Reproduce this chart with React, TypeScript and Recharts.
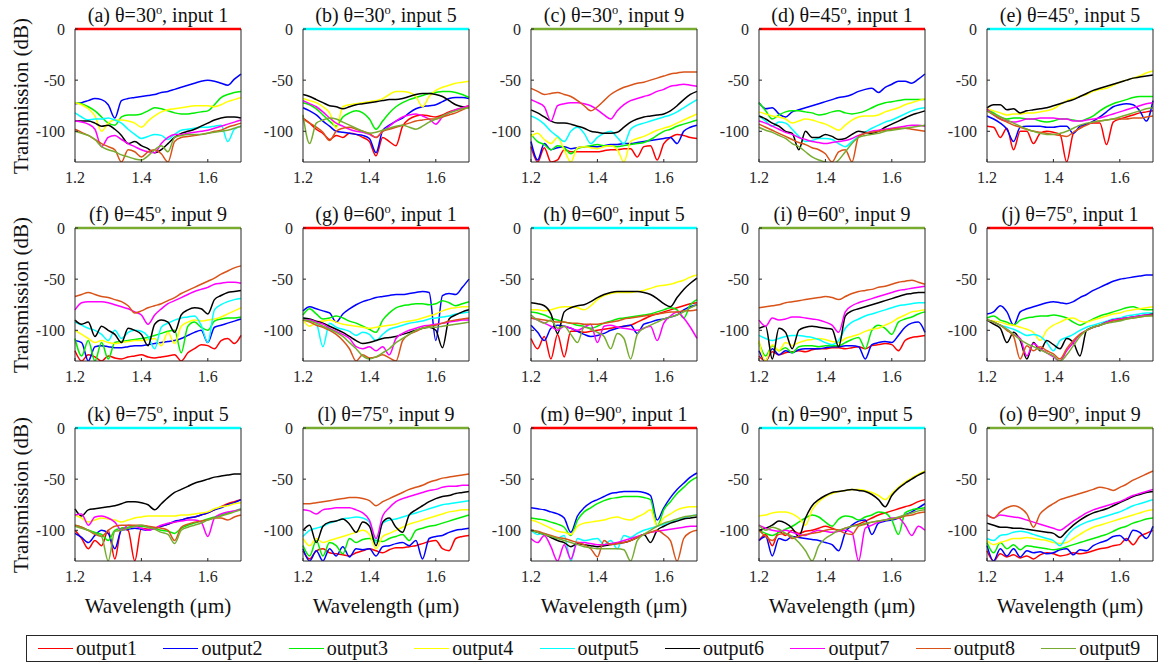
import { LineChart, Line, XAxis, YAxis } from 'recharts';

// wavelength grid (um)
const WL = [1.2, 1.22, 1.24, 1.26, 1.28, 1.3, 1.32, 1.34, 1.36, 1.38, 1.4, 1.42, 1.44, 1.46, 1.48, 1.5, 1.52, 1.54, 1.56, 1.58, 1.6, 1.62, 1.64, 1.66, 1.68, 1.7];
const ZERO = [0, 0, 0, 0, 0, 0, 0, 0, 0, 0, 0, 0, 0, 0, 0, 0, 0, 0, 0, 0, 0, 0, 0, 0, 0, 0];

const NAMES = ['output1', 'output2', 'output3', 'output4', 'output5', 'output6', 'output7', 'output8', 'output9'];
const COLORS = ['#ff0000', '#0000ff', '#00ee00', '#ffff00', '#00ffff', '#000000', '#ff00ff', '#d95319', '#77ac30'];

const X_TICKS = [1.2, 1.4, 1.6];
const Y_TICKS = [-100, -50, 0];

// each panel: output1 ... output9 (dB)
const P_A = [
  ZERO,
  [-73, -72, -70, -68, -69, -74, -87, -70, -68, -67, -66, -65, -64, -62, -61, -59, -57, -55, -53, -51, -50, -51, -53, -55, -49, -44],
  [-72, -73, -76, -80, -86, -92, -94, -86, -84, -84, -83, -80, -77, -78, -80, -82, -83, -83, -82, -81, -80, -74, -67, -64, -62, -61],
  [-72, -74, -78, -85, -100, -92, -89, -89, -90, -92, -96, -90, -85, -81, -79, -78, -77, -76, -75, -75, -75, -76, -74, -71, -69, -67],
  [-82, -86, -89, -88, -88, -87, -89, -92, -98, -103, -107, -105, -103, -104, -108, -103, -99, -98, -97, -96, -96, -95, -94, -110, -98, -95],
  [-90, -90, -90, -92, -95, -94, -98, -104, -112, -110, -114, -117, -121, -118, -112, -106, -102, -100, -98, -95, -92, -89, -87, -86, -86, -87],
  [-90, -91, -93, -98, -115, -106, -104, -108, -112, -115, -118, -120, -121, -112, -106, -103, -103, -102, -101, -100, -99, -97, -95, -93, -91, -89],
  [-98, -101, -104, -108, -112, -115, -118, -130, -118, -120, -125, -120, -118, -122, -130, -110, -106, -105, -104, -103, -102, -100, -99, -96, -94, -92],
  [-100, -102, -104, -108, -115, -118, -120, -123, -125, -127, -128, -124, -118, -114, -120, -106, -104, -103, -103, -103, -102, -101, -100, -99, -97, -95],
];

const P_B = [
  [-87, -92, -98, -102, -108, -104, -106, -102, -103, -106, -110, -124, -106, -110, -114, -95, -88, -85, -84, -85, -86, -84, -81, -79, -77, -75],
  [-77, -80, -84, -90, -95, -100, -101, -102, -103, -104, -107, -121, -99, -94, -90, -87, -82, -78, -76, -75, -74, -71, -68, -67, -67, -68],
  [-72, -74, -78, -84, -90, -95, -86, -82, -80, -82, -88, -98, -90, -82, -76, -72, -69, -67, -65, -63, -62, -61, -61, -62, -64, -67],
  [-68, -70, -72, -76, -82, -97, -76, -74, -73, -72, -71, -70, -68, -64, -61, -61, -62, -66, -76, -66, -60, -57, -55, -53, -52, -51],
  ZERO,
  [-64, -66, -69, -72, -75, -76, -78, -76, -74, -73, -72, -71, -70, -69, -69, -68, -66, -64, -63, -63, -64, -66, -70, -74, -76, -77],
  [-70, -73, -76, -81, -87, -92, -95, -98, -100, -101, -103, -106, -100, -95, -90, -86, -84, -83, -85, -88, -93, -86, -82, -79, -77, -75],
  [-88, -92, -96, -101, -109, -100, -97, -96, -98, -100, -102, -106, -100, -98, -96, -94, -92, -90, -89, -88, -88, -86, -84, -82, -79, -76],
  [-84, -112, -92, -89, -87, -88, -91, -94, -97, -100, -102, -101, -99, -97, -95, -94, -96, -98, -95, -91, -88, -85, -82, -80, -78, -77],
];

const P_C = [
  [-115, -130, -116, -130, -128, -118, -120, -120, -120, -120, -120, -119, -118, -118, -117, -117, -125, -115, -114, -128, -112, -106, -103, -104, -106, -107],
  [-110, -128, -112, -118, -116, -115, -117, -116, -115, -115, -115, -114, -113, -113, -112, -112, -111, -110, -109, -108, -107, -106, -112, -100, -96, -94],
  [-103, -110, -113, -118, -114, -116, -122, -117, -115, -114, -113, -114, -114, -115, -114, -113, -112, -111, -108, -104, -100, -98, -95, -93, -91, -89],
  [-105, -102, -108, -112, -106, -118, -130, -116, -115, -116, -117, -115, -114, -118, -130, -110, -107, -105, -102, -99, -97, -95, -92, -89, -86, -83],
  [-85, -88, -93, -100, -105, -110, -100, -96, -102, -112, -106, -102, -100, -106, -112, -98, -94, -92, -90, -88, -86, -84, -81, -77, -73, -69],
  [-79, -82, -86, -90, -92, -92, -93, -95, -97, -100, -101, -102, -102, -101, -96, -91, -88, -86, -85, -84, -83, -80, -75, -69, -64, -61],
  [-69, -72, -76, -90, -75, -73, -72, -72, -73, -75, -79, -84, -88, -80, -74, -70, -68, -66, -64, -61, -59, -56, -55, -54, -55, -56],
  [-58, -61, -64, -63, -62, -64, -66, -70, -75, -80, -76, -70, -64, -60, -57, -55, -53, -52, -50, -48, -46, -44, -43, -42, -42, -42],
  ZERO,
];

const P_D = [
  ZERO,
  [-72, -78, -77, -83, -86, -81, -79, -77, -75, -73, -71, -69, -67, -66, -64, -61, -59, -58, -62, -57, -54, -51, -51, -53, -49, -44],
  [-72, -80, -88, -84, -81, -80, -80, -81, -82, -84, -83, -81, -80, -82, -83, -82, -80, -77, -74, -72, -71, -70, -69, -69, -69, -69],
  [-81, -83, -85, -86, -88, -92, -90, -88, -89, -91, -93, -96, -99, -94, -89, -86, -85, -85, -84, -81, -79, -77, -74, -72, -70, -68],
  [-85, -90, -95, -91, -92, -98, -105, -110, -109, -107, -107, -108, -112, -115, -110, -105, -101, -97, -94, -91, -89, -86, -83, -80, -78, -77],
  [-85, -88, -92, -95, -100, -102, -118, -100, -106, -106, -103, -105, -108, -107, -103, -100, -101, -102, -100, -96, -93, -90, -87, -84, -82, -80],
  [-90, -92, -95, -98, -101, -103, -106, -108, -110, -111, -112, -111, -110, -109, -107, -104, -102, -100, -99, -98, -97, -96, -95, -94, -94, -95],
  [-93, -96, -99, -102, -105, -108, -111, -113, -116, -118, -122, -130, -120, -118, -130, -105, -102, -101, -100, -99, -98, -97, -97, -98, -99, -100],
  [-96, -99, -101, -104, -107, -112, -115, -120, -125, -128, -130, -132, -128, -120, -112, -106, -104, -103, -102, -100, -99, -98, -97, -96, -95, -94],
];

const P_E = [
  [-95, -96, -106, -97, -118, -100, -100, -112, -102, -100, -101, -103, -130, -102, -97, -93, -92, -92, -113, -91, -88, -86, -84, -82, -81, -80],
  [-85, -88, -92, -98, -110, -96, -95, -95, -95, -96, -96, -95, -95, -102, -95, -93, -90, -86, -81, -76, -74, -73, -74, -80, -90, -70],
  [-78, -82, -86, -88, -87, -87, -88, -88, -90, -91, -90, -88, -88, -89, -90, -88, -85, -80, -76, -73, -71, -69, -67, -66, -66, -66],
  [-78, -80, -82, -84, -83, -83, -82, -82, -81, -80, -78, -74, -70, -68, -66, -64, -61, -59, -58, -55, -52, -50, -48, -46, -43, -41],
  ZERO,
  [-77, -74, -74, -79, -78, -82, -80, -79, -78, -77, -75, -73, -71, -69, -66, -63, -60, -58, -56, -54, -52, -50, -48, -47, -46, -45],
  [-78, -84, -88, -90, -91, -90, -88, -88, -87, -87, -87, -88, -88, -90, -90, -89, -88, -87, -85, -83, -81, -79, -77, -75, -73, -72],
  [-80, -84, -88, -91, -94, -96, -98, -100, -101, -102, -103, -104, -105, -101, -97, -94, -91, -90, -89, -88, -88, -88, -87, -87, -86, -85],
  [-80, -83, -86, -89, -92, -95, -98, -100, -102, -103, -103, -102, -100, -97, -94, -92, -91, -90, -89, -88, -86, -84, -82, -80, -78, -77],
];

const P_F = [
  [-120, -130, -124, -126, -130, -125, -127, -128, -126, -125, -124, -126, -127, -126, -125, -124, -130, -122, -118, -114, -115, -118, -110, -108, -113, -105],
  [-110, -112, -130, -116, -115, -116, -117, -117, -116, -115, -115, -114, -113, -112, -111, -110, -108, -105, -102, -100, -112, -97, -95, -93, -91, -89],
  [-108, -125, -110, -130, -112, -128, -112, -111, -110, -109, -108, -107, -105, -103, -101, -100, -122, -96, -92, -97, -100, -91, -89, -88, -88, -87],
  [-100, -104, -108, -112, -110, -112, -113, -112, -111, -110, -110, -109, -108, -115, -102, -113, -96, -92, -90, -91, -90, -89, -87, -84, -81, -78],
  [-92, -95, -98, -100, -104, -110, -100, -108, -102, -100, -101, -106, -118, -97, -93, -90, -88, -87, -86, -95, -112, -80, -75, -72, -70, -69],
  [-90, -94, -92, -106, -96, -100, -104, -112, -98, -100, -104, -115, -94, -90, -92, -102, -85, -80, -78, -79, -84, -70, -66, -63, -62, -61],
  [-80, -73, -72, -72, -72, -73, -75, -77, -79, -82, -85, -94, -85, -79, -74, -71, -68, -65, -62, -60, -58, -55, -54, -53, -53, -54],
  [-67, -65, -63, -65, -67, -68, -70, -72, -76, -83, -81, -78, -76, -74, -71, -68, -64, -61, -58, -55, -52, -49, -45, -42, -39, -37],
  ZERO,
];

const P_G = [
  ZERO,
  [-81, -77, -79, -81, -83, -92, -84, -79, -75, -72, -70, -68, -67, -66, -65, -65, -64, -63, -62, -63, -110, -66, -64, -65, -58, -50],
  [-85, -79, -84, -89, -88, -86, -88, -91, -93, -96, -99, -102, -90, -83, -78, -76, -75, -74, -74, -75, -74, -71, -73, -76, -74, -72],
  [-90, -96, -92, -91, -90, -92, -94, -95, -96, -97, -98, -97, -96, -95, -94, -92, -91, -90, -88, -86, -84, -81, -79, -78, -77, -77],
  [-88, -90, -93, -116, -93, -97, -99, -101, -105, -102, -104, -110, -104, -99, -97, -95, -93, -92, -91, -89, -88, -87, -86, -84, -83, -82],
  [-88, -89, -91, -93, -96, -99, -102, -106, -110, -113, -112, -110, -108, -107, -106, -104, -102, -100, -98, -97, -100, -117, -89, -85, -82, -80],
  [-90, -90, -92, -94, -98, -101, -104, -108, -116, -118, -116, -120, -116, -124, -108, -103, -100, -98, -96, -95, -94, -93, -92, -91, -90, -90],
  [-90, -92, -95, -97, -100, -104, -110, -118, -130, -124, -127, -126, -124, -127, -130, -110, -104, -101, -98, -96, -95, -93, -91, -90, -89, -88],
  [-90, -91, -93, -96, -99, -102, -106, -112, -118, -125, -128, -126, -122, -118, -112, -108, -104, -100, -98, -97, -97, -96, -95, -94, -93, -92],
];

const P_H = [
  [-108, -118, -106, -128, -104, -126, -101, -101, -102, -101, -100, -99, -98, -97, -96, -95, -92, -89, -86, -84, -82, -80, -78, -76, -74, -73],
  [-95, -102, -110, -98, -95, -96, -98, -101, -104, -106, -105, -103, -100, -98, -96, -95, -103, -94, -92, -90, -89, -87, -85, -80, -77, -75],
  [-82, -83, -85, -88, -90, -92, -93, -95, -96, -98, -96, -93, -91, -89, -88, -87, -86, -85, -84, -82, -80, -78, -80, -88, -75, -70],
  [-80, -80, -81, -80, -78, -77, -77, -78, -80, -76, -70, -66, -64, -63, -63, -63, -62, -61, -59, -57, -56, -55, -53, -51, -48, -46],
  ZERO,
  [-73, -74, -76, -84, -103, -82, -78, -76, -75, -72, -68, -65, -63, -62, -62, -62, -62, -63, -65, -69, -74, -77, -68, -60, -54, -49],
  [-88, -90, -93, -96, -100, -96, -98, -100, -97, -94, -112, -96, -95, -97, -98, -99, -100, -98, -96, -110, -93, -86, -82, -88, -97, -108],
  [-88, -89, -90, -91, -92, -92, -93, -93, -94, -94, -94, -93, -92, -91, -89, -88, -87, -86, -85, -84, -83, -82, -82, -81, -81, -80],
  [-85, -90, -93, -90, -98, -96, -104, -112, -97, -99, -102, -106, -118, -103, -108, -128, -104, -98, -95, -92, -89, -87, -85, -82, -78, -75],
];

const P_I = [
  [-125, -130, -121, -124, -122, -121, -120, -121, -119, -118, -118, -117, -117, -118, -117, -116, -118, -115, -114, -113, -114, -120, -110, -107, -106, -105],
  [-120, -130, -118, -124, -120, -122, -119, -118, -118, -118, -117, -116, -116, -115, -115, -116, -128, -114, -112, -111, -112, -105, -97, -93, -92, -102],
  [-112, -125, -115, -120, -117, -122, -116, -115, -115, -116, -115, -115, -115, -112, -109, -107, -118, -100, -95, -98, -104, -92, -89, -87, -84, -82],
  [-110, -130, -114, -120, -112, -115, -112, -110, -109, -108, -109, -111, -112, -108, -106, -104, -101, -99, -98, -95, -92, -88, -85, -82, -81, -80],
  [-105, -108, -110, -108, -106, -105, -105, -106, -107, -109, -112, -114, -110, -98, -92, -89, -86, -84, -82, -80, -78, -76, -75, -74, -73, -73],
  [-98, -96, -128, -98, -102, -118, -100, -97, -96, -97, -98, -99, -116, -86, -81, -79, -77, -75, -73, -71, -69, -67, -65, -64, -63, -63],
  [-90, -96, -88, -90, -89, -87, -87, -88, -89, -90, -92, -95, -102, -82, -76, -73, -71, -69, -67, -65, -63, -61, -60, -59, -58, -57],
  [-78, -77, -76, -75, -73, -72, -71, -70, -69, -68, -67, -68, -70, -67, -64, -62, -61, -60, -58, -57, -55, -53, -52, -51, -53, -55],
  ZERO,
];

const P_J = [
  ZERO,
  [-84, -82, -76, -82, -95, -82, -79, -77, -75, -73, -72, -73, -74, -72, -68, -65, -61, -58, -55, -52, -50, -49, -48, -47, -46, -46],
  [-88, -86, -90, -92, -95, -90, -88, -87, -86, -86, -85, -86, -88, -92, -95, -92, -89, -86, -84, -82, -80, -78, -77, -79, -80, -80],
  [-90, -91, -92, -94, -95, -97, -99, -102, -110, -100, -95, -92, -89, -88, -91, -92, -90, -88, -86, -84, -83, -81, -80, -79, -78, -77],
  [-90, -92, -95, -97, -99, -102, -105, -104, -106, -112, -120, -110, -107, -104, -100, -97, -95, -93, -91, -89, -88, -86, -85, -84, -83, -83],
  [-90, -94, -98, -112, -102, -110, -128, -112, -120, -110, -114, -118, -108, -112, -125, -100, -97, -95, -92, -90, -89, -88, -87, -86, -85, -84],
  [-90, -92, -95, -99, -104, -108, -125, -113, -118, -122, -126, -130, -120, -112, -104, -100, -97, -95, -92, -90, -89, -88, -87, -86, -85, -85],
  [-90, -92, -95, -100, -106, -128, -115, -120, -116, -120, -123, -128, -118, -110, -104, -100, -97, -95, -93, -91, -90, -89, -88, -87, -86, -85],
  [-90, -92, -95, -99, -104, -109, -113, -116, -119, -122, -125, -130, -124, -115, -106, -100, -97, -95, -93, -92, -91, -89, -88, -87, -86, -86],
];

const P_K = [
  [-100, -108, -118, -110, -115, -100, -128, -98, -100, -130, -98, -99, -98, -96, -94, -92, -90, -88, -87, -85, -83, -80, -77, -74, -72, -70],
  [-103, -107, -112, -105, -100, -103, -118, -100, -99, -98, -99, -100, -98, -96, -94, -91, -90, -88, -87, -85, -83, -80, -78, -75, -73, -70],
  [-95, -97, -100, -102, -104, -110, -100, -98, -97, -96, -96, -97, -98, -100, -101, -103, -98, -95, -93, -91, -89, -87, -85, -83, -81, -79],
  [-85, -88, -92, -90, -88, -89, -90, -92, -90, -88, -87, -86, -86, -86, -86, -86, -85, -85, -84, -83, -82, -79, -77, -76, -74, -73],
  ZERO,
  [-79, -86, -80, -79, -78, -77, -76, -74, -72, -72, -73, -75, -80, -74, -68, -63, -60, -57, -54, -52, -50, -48, -47, -46, -45, -45],
  [-85, -84, -95, -87, -86, -88, -92, -100, -95, -96, -98, -100, -98, -95, -93, -92, -91, -90, -90, -92, -106, -88, -84, -82, -81, -80],
  [-95, -97, -100, -104, -106, -100, -96, -95, -95, -95, -95, -96, -97, -98, -100, -110, -97, -94, -92, -91, -90, -88, -88, -90, -87, -85],
  [-96, -98, -100, -103, -106, -130, -101, -100, -98, -96, -95, -97, -99, -102, -104, -113, -100, -97, -95, -93, -90, -88, -86, -84, -82, -80],
];

const P_L = [
  [-120, -128, -120, -118, -122, -123, -124, -125, -122, -120, -118, -120, -122, -119, -117, -117, -116, -115, -113, -111, -110, -118, -120, -108, -106, -105],
  [-118, -130, -120, -130, -118, -125, -116, -126, -118, -119, -118, -125, -116, -115, -113, -112, -115, -110, -128, -108, -106, -105, -102, -100, -99, -98],
  [-115, -125, -110, -125, -112, -115, -123, -108, -112, -109, -108, -110, -111, -108, -106, -104, -110, -100, -98, -96, -95, -93, -91, -89, -87, -85],
  [-108, -115, -108, -112, -110, -108, -106, -104, -102, -100, -104, -118, -106, -103, -100, -97, -94, -92, -90, -88, -86, -84, -82, -81, -80, -80],
  [-106, -100, -98, -96, -93, -91, -89, -88, -87, -88, -92, -112, -93, -90, -89, -87, -85, -83, -81, -79, -77, -75, -74, -73, -72, -71],
  [-100, -95, -112, -96, -92, -91, -89, -94, -102, -92, -96, -115, -92, -88, -97, -102, -85, -80, -76, -72, -69, -67, -66, -64, -63, -62],
  [-80, -81, -84, -80, -79, -78, -78, -78, -80, -83, -90, -108, -86, -78, -72, -69, -67, -65, -63, -61, -60, -58, -57, -57, -56, -56],
  [-74, -74, -73, -72, -71, -70, -69, -68, -68, -69, -71, -76, -72, -69, -66, -63, -60, -58, -56, -53, -51, -49, -48, -47, -46, -45],
  ZERO,
];

const P_M = [
  ZERO,
  [-78, -79, -80, -82, -84, -88, -102, -86, -78, -73, -70, -67, -64, -63, -62, -62, -62, -63, -66, -90, -78, -68, -60, -54, -48, -44],
  [-88, -89, -90, -92, -94, -97, -105, -90, -82, -78, -74, -71, -69, -68, -67, -67, -67, -68, -70, -96, -80, -72, -64, -58, -52, -48],
  [-90, -92, -95, -98, -101, -102, -104, -96, -93, -92, -91, -90, -88, -87, -89, -90, -87, -84, -80, -96, -88, -84, -80, -78, -77, -77],
  [-100, -104, -103, -106, -108, -105, -130, -108, -110, -109, -108, -114, -110, -118, -105, -107, -103, -100, -98, -96, -94, -92, -90, -88, -86, -85],
  [-100, -102, -104, -107, -110, -112, -116, -113, -114, -115, -116, -115, -114, -113, -112, -110, -107, -104, -112, -100, -96, -93, -91, -89, -88, -87],
  [-108, -112, -105, -116, -130, -114, -128, -112, -112, -113, -114, -114, -113, -112, -110, -108, -106, -104, -102, -101, -100, -99, -98, -97, -96, -96],
  [-100, -101, -103, -105, -107, -108, -110, -112, -114, -118, -126, -110, -114, -113, -112, -110, -107, -104, -102, -100, -104, -110, -130, -108, -102, -100],
  [-100, -102, -104, -106, -108, -110, -112, -114, -116, -117, -118, -118, -118, -118, -119, -130, -110, -104, -100, -96, -93, -91, -89, -87, -86, -85],
];

const P_N = [
  [-110, -104, -115, -101, -105, -100, -103, -101, -100, -98, -96, -98, -100, -98, -96, -94, -91, -88, -85, -83, -81, -79, -77, -75, -72, -70],
  [-110, -106, -125, -108, -110, -106, -107, -108, -109, -110, -112, -114, -120, -102, -95, -91, -90, -104, -93, -91, -90, -88, -85, -82, -78, -74],
  [-100, -103, -105, -102, -99, -96, -92, -88, -85, -87, -92, -96, -89, -86, -87, -90, -87, -85, -82, -83, -90, -104, -83, -80, -79, -78],
  [-86, -85, -83, -82, -82, -84, -88, -95, -80, -72, -67, -64, -62, -61, -60, -60, -61, -63, -66, -70, -64, -58, -53, -49, -45, -42],
  ZERO,
  [-100, -98, -95, -91, -93, -98, -106, -88, -76, -70, -66, -63, -62, -61, -60, -61, -62, -65, -70, -77, -66, -59, -54, -50, -46, -43],
  [-95, -98, -100, -101, -100, -102, -104, -105, -102, -100, -101, -102, -101, -100, -102, -130, -98, -95, -92, -90, -88, -88, -95, -105, -96, -100],
  [-100, -106, -110, -104, -103, -108, -106, -104, -103, -102, -100, -99, -100, -103, -104, -96, -94, -92, -91, -90, -89, -88, -86, -85, -83, -82],
  [-95, -100, -97, -99, -103, -106, -112, -120, -130, -115, -108, -104, -100, -98, -96, -95, -93, -92, -91, -90, -89, -87, -85, -83, -81, -80],
];

const P_O = [
  [-120, -130, -123, -126, -124, -127, -125, -128, -124, -122, -123, -125, -124, -122, -123, -122, -120, -118, -117, -115, -114, -108, -114, -106, -103, -100],
  [-115, -130, -118, -125, -118, -126, -120, -122, -121, -123, -122, -119, -118, -124, -119, -120, -115, -112, -110, -106, -105, -110, -100, -102, -108, -96],
  [-112, -122, -112, -118, -114, -119, -115, -116, -117, -118, -119, -118, -116, -114, -112, -110, -108, -106, -104, -101, -98, -96, -93, -91, -89, -88],
  [-110, -114, -112, -110, -108, -108, -107, -108, -109, -110, -112, -113, -112, -108, -104, -100, -97, -95, -93, -91, -89, -87, -85, -83, -81, -80],
  [-108, -110, -105, -104, -102, -101, -102, -104, -106, -108, -110, -115, -106, -99, -95, -92, -90, -88, -86, -84, -82, -79, -76, -74, -72, -70],
  [-93, -95, -97, -97, -98, -98, -99, -100, -101, -102, -103, -107, -101, -95, -90, -86, -83, -81, -79, -76, -73, -70, -67, -65, -63, -62],
  [-85, -88, -85, -86, -87, -88, -90, -92, -94, -96, -98, -100, -96, -91, -87, -83, -80, -78, -76, -74, -72, -69, -66, -64, -62, -60],
  [-85, -88, -82, -78, -76, -78, -84, -97, -84, -78, -74, -70, -68, -66, -64, -62, -60, -58, -59, -61, -58, -55, -51, -48, -45, -42],
  ZERO,
];

const PANELS = [
  { tag: 'a', theta: 30, input: 1, series: P_A },
  { tag: 'b', theta: 30, input: 5, series: P_B },
  { tag: 'c', theta: 30, input: 9, series: P_C },
  { tag: 'd', theta: 45, input: 1, series: P_D },
  { tag: 'e', theta: 45, input: 5, series: P_E },
  { tag: 'f', theta: 45, input: 9, series: P_F },
  { tag: 'g', theta: 60, input: 1, series: P_G },
  { tag: 'h', theta: 60, input: 5, series: P_H },
  { tag: 'i', theta: 60, input: 9, series: P_I },
  { tag: 'j', theta: 75, input: 1, series: P_J },
  { tag: 'k', theta: 75, input: 5, series: P_K },
  { tag: 'l', theta: 75, input: 9, series: P_L },
  { tag: 'm', theta: 90, input: 1, series: P_M },
  { tag: 'n', theta: 90, input: 5, series: P_N },
  { tag: 'o', theta: 90, input: 9, series: P_O },
];

const PLOT_W = 166;
const PLOT_H = 133;
const COL_X = [75, 303, 531, 759, 987];
const ROW_Y = [29, 228, 428];
const AXIS = '#262626';
const FONT = "'Liberation Serif', 'DejaVu Serif', serif";

function Panel({ panel, row, col }: { panel: any; row: number; col: number }) {
  const left = COL_X[col];
  const top = ROW_Y[row];
  const data = WL.map((x, i) => {
    const point: Record<string, number> = { x };
    panel.series.forEach((s: number[], k: number) => {
      point['o' + (k + 1)] = s[i];
    });
    return point;
  });
  const tickStyle = { fill: AXIS, fontSize: 16, fontFamily: FONT };

  return (
    <>
      <div
        style={{
          position: 'absolute',
          left: left - 40,
          width: PLOT_W + 80,
          top: top - 25,
          textAlign: 'center',
          fontFamily: FONT,
          fontSize: 20,
          lineHeight: '22px',
          whiteSpace: 'nowrap',
          color: '#111',
        }}
      >
        ({panel.tag}) θ={panel.theta}
        <sup style={{ fontSize: '0.62em', lineHeight: 0 }}>o</sup>, input {panel.input}
      </div>
      <div style={{ position: 'absolute', left: left - 60, top: top - 10 }}>
        <LineChart width={232} height={173} data={data} margin={{ top: 9, right: 5, bottom: 0, left: 0 }}>
          <XAxis
            xAxisId="b"
            dataKey="x"
            type="number"
            domain={[1.2, 1.7]}
            ticks={X_TICKS}
            interval={0}
            tickFormatter={(v: number) => v.toFixed(1)}
            height={30}
            tickSize={-3}
            tickMargin={13}
            stroke={AXIS}
            tick={tickStyle}
          />
          <XAxis
            xAxisId="t"
            orientation="top"
            dataKey="x"
            type="number"
            domain={[1.2, 1.7]}
            ticks={X_TICKS}
            interval={0}
            height={1}
            tickSize={-3}
            tick={false}
            axisLine={false}
            stroke={AXIS}
          />
          <YAxis
            yAxisId="l"
            type="number"
            domain={[-130, 0]}
            allowDataOverflow
            ticks={Y_TICKS}
            interval={0}
            width={60}
            tickSize={-3}
            tickMargin={13}
            stroke={AXIS}
            tick={tickStyle}
          />
          <YAxis
            yAxisId="r"
            orientation="right"
            type="number"
            domain={[-130, 0]}
            ticks={Y_TICKS}
            interval={0}
            width={1}
            tickSize={-3}
            tick={false}
            stroke={AXIS}
          />
          {NAMES.map((name, k) => (
            <Line
              key={name}
              xAxisId="b"
              yAxisId={k === panel.input - 1 ? 'r' : 'l'}
              type="monotone"
              dataKey={'o' + (k + 1)}
              name={name}
              stroke={COLORS[k]}
              strokeWidth={k === panel.input - 1 ? 2.4 : 1.5}
              dot={false}
              activeDot={false}
              isAnimationActive={false}
            />
          ))}
        </LineChart>
      </div>
      {col === 0 && (
        <div
          style={{
            position: 'absolute',
            left: 21,
            top: top + PLOT_H / 2,
            transform: 'translate(-50%, -50%) rotate(-90deg)',
            fontFamily: FONT,
            fontSize: 21,
            whiteSpace: 'nowrap',
            color: '#111',
          }}
        >
          Transmission (dB)
        </div>
      )}
      {row === 2 && (
        <div
          style={{
            position: 'absolute',
            left: left - 40,
            width: PLOT_W + 80,
            top: 594,
            textAlign: 'center',
            fontFamily: FONT,
            fontSize: 21,
            lineHeight: '24px',
            color: '#111',
          }}
        >
          Wavelength (μm)
        </div>
      )}
    </>
  );
}

export default function App() {
  return (
    <div
      style={{
        position: 'absolute',
        left: 0,
        top: 0,
        width: 1163,
        height: 663,
        background: '#fff',
        fontFamily: FONT,
        overflow: 'hidden',
      }}
    >
      {PANELS.map((p, i) => (
        <Panel key={p.tag} panel={p} row={Math.floor(i / 5)} col={i % 5} />
      ))}
      <div
        style={{
          position: 'absolute',
          left: 26,
          top: 635,
          width: 1132,
          height: 27,
          boxSizing: 'border-box',
          border: '1px solid ' + AXIS,
        }}
      >
        {NAMES.map((name, k) => (
          <div key={name} style={{ position: 'absolute', left: 11 + k * 125.4, top: 0, height: 25, whiteSpace: 'nowrap' }}>
            <span
              style={{
                position: 'absolute',
                left: 0,
                top: 12,
                width: 35,
                height: 0,
                borderTop: '1.5px solid ' + COLORS[k],
              }}
            />
            <span
              style={{
                position: 'absolute',
                left: 38,
                top: 0,
                fontFamily: FONT,
                fontSize: 20,
                lineHeight: '25px',
                color: '#111',
              }}
            >
              {name}
            </span>
          </div>
        ))}
      </div>
    </div>
  );
}
